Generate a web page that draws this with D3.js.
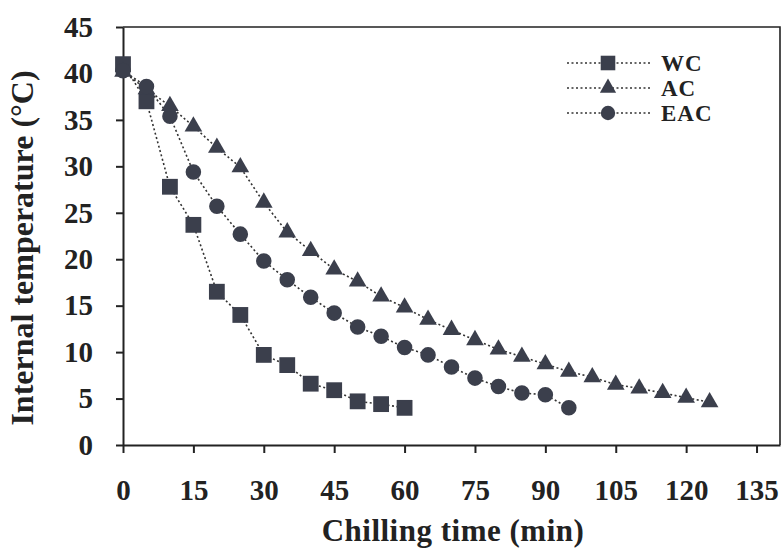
<!DOCTYPE html>
<html>
<head>
<meta charset="utf-8">
<script src="https://cdn.jsdelivr.net/npm/d3@7"></script>
<style>
  body { margin: 0; background: #fff; }
  text { font-family: "Liberation Serif", "Times New Roman", serif; font-weight: bold; fill: #222; }
</style>
</head>
<body>
<div id="chart"></div>
<script>
// chilling time (min)
const timeWC = [0, 5, 10, 15, 20, 25, 30, 35, 40, 45, 50, 55, 60]
const timeAC = [0, 5, 10, 15, 20, 25, 30, 35, 40, 45, 50, 55, 60, 65, 70, 75, 80, 85, 90, 95, 100, 105, 110, 115, 120, 125]
const timeEAC = [0, 5, 10, 15, 20, 25, 30, 35, 40, 45, 50, 55, 60, 65, 70, 75, 80, 85, 90, 95]

// internal temperature (C)
const tempWC = [41.0, 37.0, 27.8, 23.7, 16.5, 14.0, 9.7, 8.6, 6.6, 5.9, 4.7, 4.4, 4.0]
const tempAC = [40.2, 38.3, 36.5, 34.3, 32.0, 29.9, 26.1, 22.9, 20.9, 18.9, 17.6, 16.0, 14.8, 13.5, 12.4, 11.3, 10.3, 9.5, 8.7, 7.9, 7.3, 6.5, 6.1, 5.6, 5.1, 4.6]
const tempEAC = [40.3, 38.6, 35.4, 29.4, 25.7, 22.7, 19.8, 17.8, 15.9, 14.2, 12.7, 11.7, 10.5, 9.7, 8.4, 7.2, 6.3, 5.6, 5.4, 4.0]

const seriesNames = ['WC', 'AC', 'EAC']
const xTicks = [0, 15, 30, 45, 60, 75, 90, 105, 120, 135]
const yTicks = [0, 5, 10, 15, 20, 25, 30, 35, 40, 45]

const series = [
  {name: seriesNames[0], shape: d3.symbolSquare, size: 250, values: timeWC.map((t, i) => ({t, v: tempWC[i]}))},
  {name: seriesNames[1], shape: d3.symbolTriangle, size: 135, values: timeAC.map((t, i) => ({t, v: tempAC[i]}))},
  {name: seriesNames[2], shape: d3.symbolCircle, size: 190, values: timeEAC.map((t, i) => ({t, v: tempEAC[i]}))},
]

const width = 784
const height = 550
const margin = {top: 27, right: 4, bottom: 105, left: 123}
const markColor = '#3b3f4c'

const x = d3.scaleLinear()
  .domain([0, 140])
  .range([margin.left, width - margin.right])
const y = d3.scaleLinear()
  .domain([0, 45])
  .range([height - margin.bottom, margin.top])

const svg = d3.create('svg')
  .attr('width', width)
  .attr('height', height)
  .attr('viewBox', [0, 0, width, height])

// frame (top and right)
svg.append('path')
  .attr('d', `M${x(0)},${y(45)}H${x(140)}V${y(0)}`)
  .attr('fill', 'none')
  .attr('stroke', '#222')
  .attr('stroke-width', 1.6)

// axes
const xAxis = g => g
  .attr('transform', `translate(0, ${y(0)})`)
  .call(d3.axisBottom(x).tickValues(xTicks).tickSize(8).tickSizeOuter(0))
  .call(g => g.selectAll('.domain, line').attr('stroke', '#222').attr('stroke-width', 2))
  .call(g => g.selectAll('text').attr('font-size', 29).attr('dy', '0.35em').attr('y', 45))

const yAxis = g => g
  .attr('transform', `translate(${x(0)}, 0)`)
  .call(d3.axisLeft(y).tickValues(yTicks).tickSize(7).tickSizeOuter(0).tickPadding(23))
  .call(g => g.selectAll('.domain, line').attr('stroke', '#222').attr('stroke-width', 2))
  .call(g => g.selectAll('text').attr('font-size', 29))

svg.append('g').call(xAxis)
svg.append('g').call(yAxis)
svg.selectAll('.tick text').attr('fill', '#222').attr('font-family', '"Liberation Serif", serif')

// lines
const line = d3.line()
  .x(d => x(d.t))
  .y(d => y(d.v))

svg.append('g')
  .selectAll('path')
  .data(series)
  .join('path')
    .attr('d', d => line(d.values))
    .attr('fill', 'none')
    .attr('stroke', '#333')
    .attr('stroke-width', 1.6)
    .attr('stroke-dasharray', '2,2.5')

// markers
series.forEach(s => {
  svg.append('g')
    .selectAll('path')
    .data(s.values)
    .join('path')
      .attr('transform', d => `translate(${x(d.t)},${y(d.v)})`)
      .attr('d', d3.symbol().type(s.shape).size(s.size))
      .attr('fill', markColor)
})

// legend
const legend = svg.append('g')
  .attr('transform', 'translate(567, 63)')
legend.selectAll('g')
  .data(series)
  .join('g')
    .attr('transform', (d, i) => `translate(0, ${i * 25})`)
    .each(function (d) {
      const g = d3.select(this)
      g.append('line')
        .attr('x1', 0).attr('x2', 84)
        .attr('stroke', '#333')
        .attr('stroke-width', 1.6)
        .attr('stroke-dasharray', '2,2.5')
      g.append('path')
        .attr('transform', 'translate(41,0)')
        .attr('d', d3.symbol().type(d.shape).size(d.size * 0.85))
        .attr('fill', markColor)
      g.append('text')
        .attr('x', 94)
        .attr('dy', '0.35em')
        .attr('font-size', 23)
        .attr('letter-spacing', 1)
        .text(d.name)
    })

// axis titles
svg.append('text')
  .attr('x', 453)
  .attr('y', 541)
  .attr('text-anchor', 'middle')
  .attr('font-size', 31)
  .attr('letter-spacing', 0.5)
  .text('Chilling time (min)')

svg.append('text')
  .attr('transform', 'translate(22, 248) rotate(-90)')
  .attr('dy', '0.35em')
  .attr('text-anchor', 'middle')
  .attr('font-size', 32)
  .text('Internal temperature (°C)')

document.getElementById('chart').appendChild(svg.node())
</script>
</body>
</html>
